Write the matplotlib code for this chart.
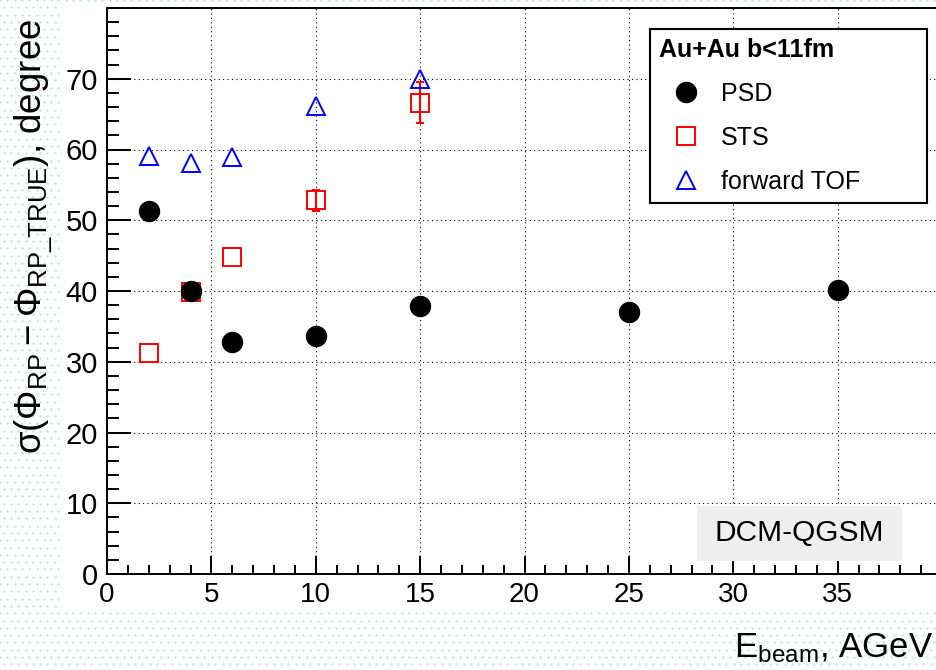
import numpy as np
import matplotlib.pyplot as plt
from matplotlib.patches import Rectangle

plt.rcParams['font.family'] = ['Liberation Sans', 'DejaVu Sans']
plt.rcParams['mathtext.default'] = 'regular'

# reaction plane resolution vs beam energy
e_psd = [2, 4, 6, 10, 15, 25, 35]
res_psd = [51.3, 40.0, 32.8, 33.7, 37.9, 37.1, 40.1]

e_sts = [2, 4, 6, 10, 15]
res_sts = [31.2, 39.8, 44.8, 52.8, 66.6]
err_sts = [0.0, 0.0, 0.0, 1.5, 2.9]

e_tof = [2, 4, 6, 10, 15]
res_tof = [59.1, 58.1, 59.0, 66.1, 70.0]

W, H = 936, 670
fig = plt.figure(figsize=(W / 100, H / 100), dpi=100)

# dotted slide background with a white canvas on top
bg = fig.add_axes([0, 0, 1, 1], zorder=0)
bg.set_xlim(0, W)
bg.set_ylim(H, 0)
bg.axis('off')
step = 7.3
gx, gy = np.meshgrid(np.arange(0, W + step, step), np.arange(0, H + step, step))
gx = gx + (np.arange(gx.shape[0])[:, None] % 2) * step / 2
bg.scatter(gx.ravel(), gy.ravel(), s=3, color='#bfe4e8', linewidths=0)
bg.add_patch(Rectangle((62, 4), W - 62, 608, facecolor='white', edgecolor='none'))

# main frame, x axis runs to 40 and is cut at the right edge
ax = fig.add_axes([107 / W, (H - 574) / H, 835 / W, 566 / H], zorder=1)
ax.set_xlim(0, 40)
ax.set_ylim(0, 80)

# only the errors larger than the marker are drawn
has_err = [i for i, e in enumerate(err_sts) if e > 0]
ax.errorbar([e_sts[i] for i in has_err], [res_sts[i] for i in has_err],
            yerr=[err_sts[i] for i in has_err], fmt='none', ecolor='red',
            elinewidth=1.5, capsize=2.8, capthick=1.5, zorder=3)
h_sts, = ax.plot(e_sts, res_sts, ls='none', marker='s', ms=12.3, mfc='none',
                 mec='red', mew=1.4, zorder=4)
h_tof, = ax.plot(e_tof, res_tof, ls='none', marker='^', ms=12.3, mfc='none',
                 mec='blue', mew=1.4, zorder=4)
h_psd, = ax.plot(e_psd, res_psd, ls='none', marker='o', ms=14.4, color='black',
                 zorder=5)

ax.set_xticks(np.arange(0, 40, 5))
ax.set_xticks(np.arange(0, 41, 1), minor=True)
ax.set_yticks(np.arange(0, 80, 10))
ax.set_yticks(np.arange(0, 81, 2), minor=True)
ax.tick_params(axis='both', which='both', direction='in', width=1.4, color='black')
ax.tick_params(axis='x', which='major', length=13, pad=5.5, labelsize=20)
ax.tick_params(axis='x', which='minor', length=6.5)
ax.tick_params(axis='y', which='major', length=17.3, pad=6.5, labelsize=21)
ax.tick_params(axis='y', which='minor', length=8.6)
for sp in ax.spines.values():
    sp.set_linewidth(1.4)
ax.grid(True, which='major', color='black', lw=0.8, ls=(0, (1, 3)))

leg = ax.legend([h_psd, h_sts, h_tof], ['PSD', 'STS', 'forward TOF'],
                title='Au+Au b<11fm', loc='upper left', mode='expand',
                bbox_to_anchor=(650 / W, (H - 203) / H, 277 / W, 174 / H),
                bbox_transform=fig.transFigure,
                borderaxespad=0, fontsize=18, alignment='left',
                title_fontproperties={'size': 18, 'weight': 'bold'},
                handlelength=2.2, handletextpad=0.3, labelspacing=0.8,
                borderpad=0.35, fancybox=False, framealpha=1, edgecolor='black')
leg.get_frame().set_linewidth(1.5)
leg.set_zorder(6)

ax.add_patch(Rectangle((0.7066, 0.023), 0.2455, 0.0972, transform=ax.transAxes,
                       facecolor='#efefef', edgecolor='none', zorder=6))
ax.text(0.8293, 0.0716, 'DCM-QGSM', transform=ax.transAxes, fontsize=21.5,
        ha='center', va='center', zorder=7)

fig.text(42 / W, (H - 236) / H, r'$\sigma(\Phi_{RP} - \Phi_{RP\_TRUE})$, degree',
         rotation=90, rotation_mode='anchor', ha='center', va='baseline',
         fontsize=26.5, zorder=3)
fig.text(933 / W, (H - 657) / H, r'$E_{beam}$, AGeV', ha='right', va='baseline',
         fontsize=25, zorder=3)

fig.savefig('out.png', dpi=100)
